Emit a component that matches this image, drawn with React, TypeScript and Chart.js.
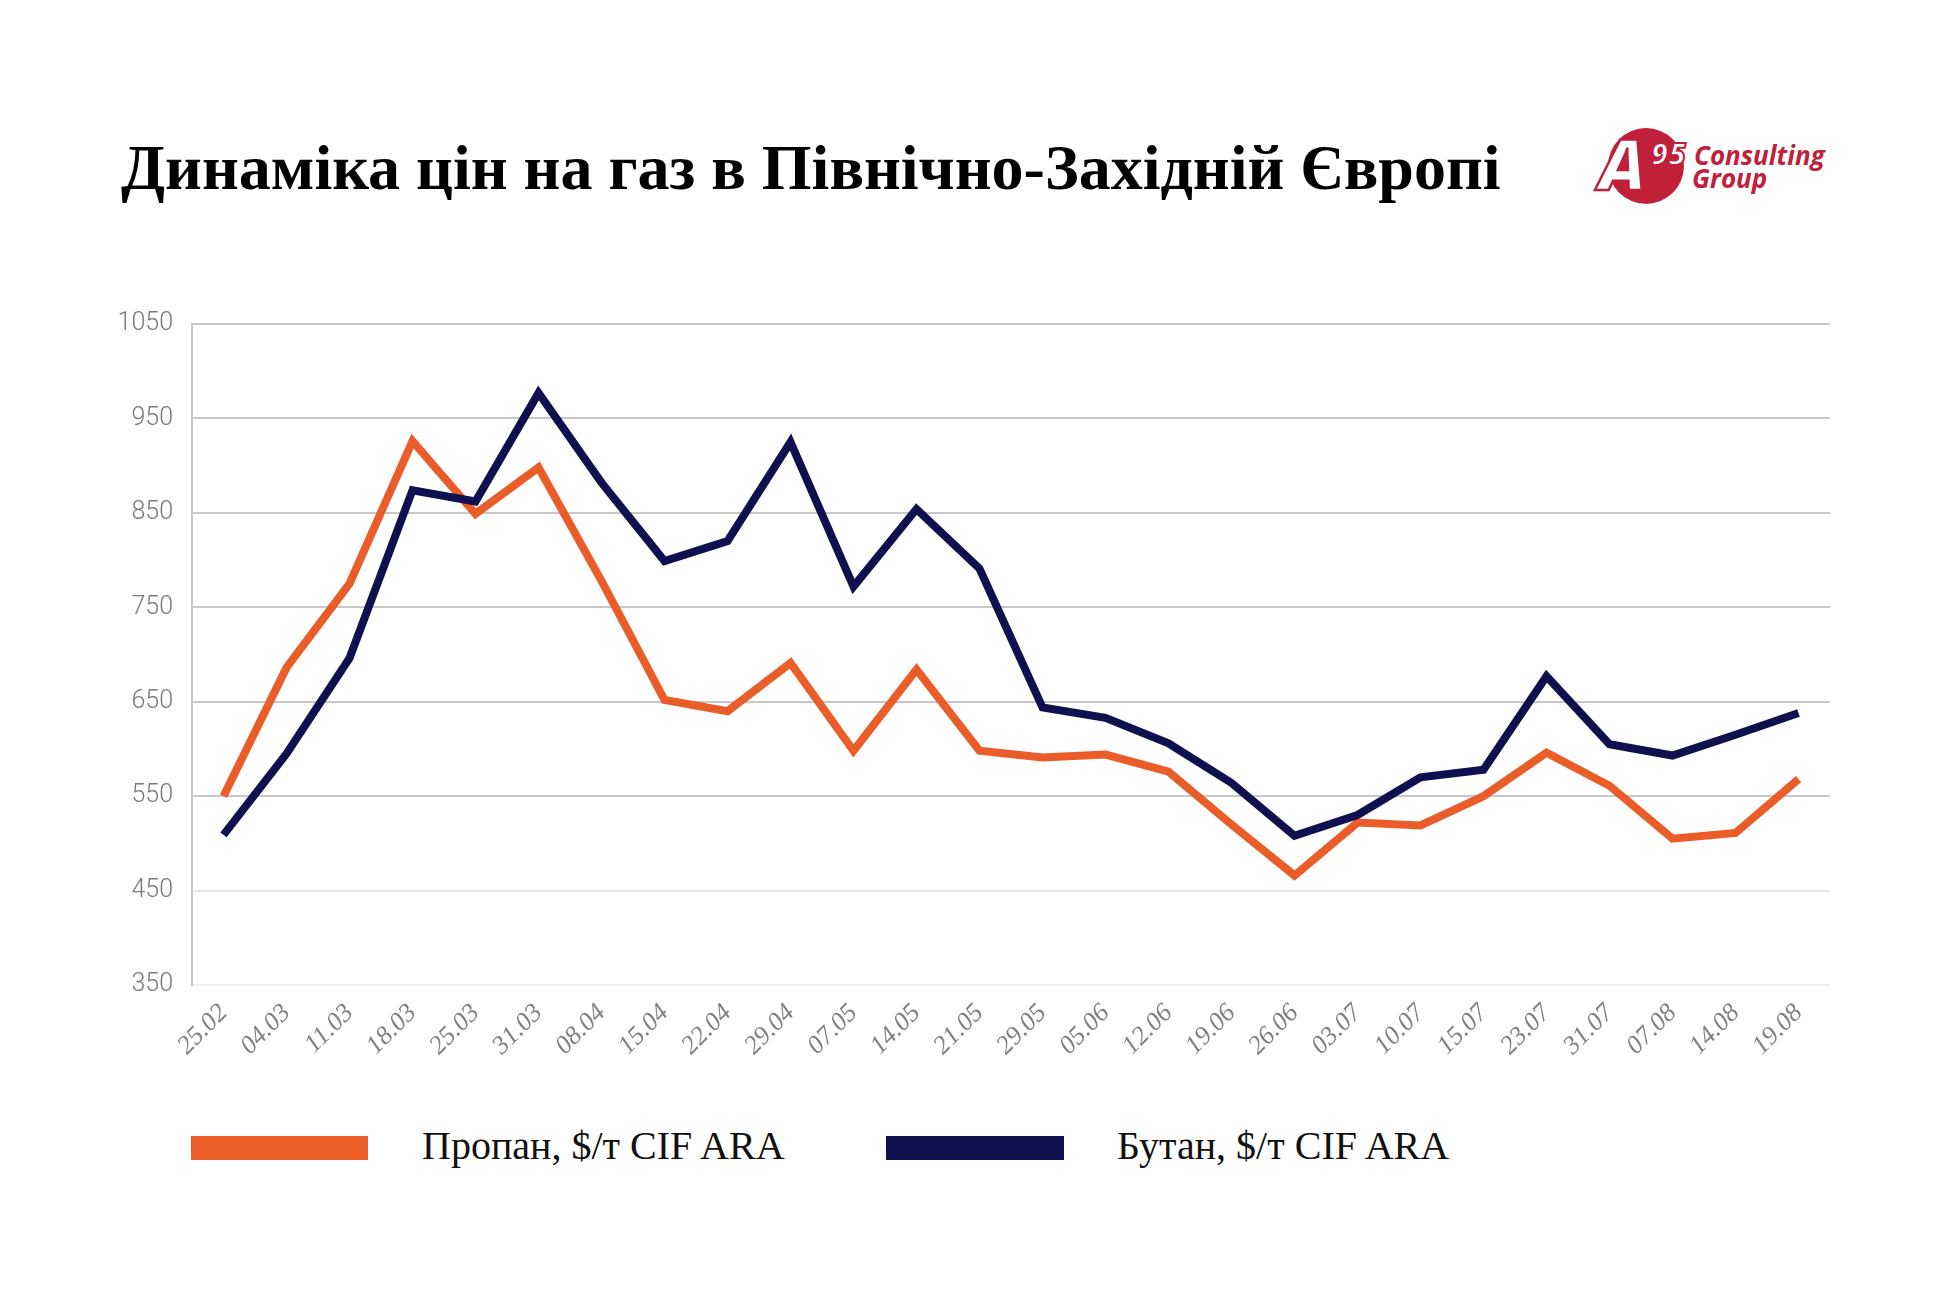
import { useEffect, useRef } from 'react';
import { Chart, registerables } from 'chart.js';

Chart.register(...registerables);

const LABELS = ['25.02', '04.03', '11.03', '18.03', '25.03', '31.03', '08.04', '15.04', '22.04', '29.04', '07.05', '14.05', '21.05', '29.05', '05.06', '12.06', '19.06', '26.06', '03.07', '10.07', '15.07', '23.07', '31.07', '07.08', '14.08', '19.08'];
const PROPANE = [550, 686, 775, 926, 849, 898, 778, 652, 640, 691, 598, 684, 598, 591, 594, 576, 520, 466, 522, 519, 550, 596, 561, 505, 511, 568];
const BUTANE = [509, 595, 696, 874, 862, 977, 882, 799, 820, 925, 772, 854, 791, 644, 633, 606, 564, 508, 530, 570, 578, 677, 605, 593, 615, 638];
const SERIES_NAMES = ['Пропан, $/т CIF ARA', 'Бутан, $/т CIF ARA'];
const Y_MIN = 350;
const Y_MAX = 1050;
const Y_STEP = 100;

const ORANGE = '#ea5c28';
const NAVY = '#10104f';
const RED = '#c1203b';

function gridColor(ctx: any) {
  const v = ctx.tick && ctx.tick.value;
  if (v === 350) return '#eeeeee';
  if (v === 450) return '#e2e5ee';
  return '#c8c8c8';
}

function PriceChart() {
  const ref = useRef<HTMLCanvasElement>(null);
  const ci = useRef<Chart | null>(null);

  useEffect(() => {
    if (!ref.current) return;
    ci.current?.destroy();
    ci.current = new Chart(ref.current, {
      type: 'line',
      data: {
        labels: LABELS,
        datasets: [
          { label: SERIES_NAMES[0], data: PROPANE, borderColor: ORANGE, backgroundColor: ORANGE, borderWidth: 8, pointRadius: 0, tension: 0, fill: false, borderJoinStyle: 'miter', borderCapStyle: 'butt', order: 1 },
          { label: SERIES_NAMES[1], data: BUTANE, borderColor: NAVY, backgroundColor: NAVY, borderWidth: 8, pointRadius: 0, tension: 0, fill: false, borderJoinStyle: 'miter', borderCapStyle: 'butt', order: 0 },
        ],
      },
      options: {
        animation: false, responsive: true, maintainAspectRatio: false,
        layout: { padding: { top: 26, right: 50, left: 0, bottom: 0 } },
        plugins: { legend: { display: false }, tooltip: { enabled: false } },
        scales: {
          x: {
            offset: true,
            grid: { display: false },
            border: { display: false },
            ticks: { autoSkip: false, minRotation: 45, maxRotation: 45, padding: 5, color: '#808080', font: { family: '"Liberation Serif", serif', style: 'italic', size: 26 } },
            afterFit: (s: any) => { s.height = 125; },
          },
          y: {
            min: Y_MIN, max: Y_MAX,
            ticks: { stepSize: Y_STEP, padding: 19, color: '#7a7a7a', font: { family: 'Roboto, sans-serif', weight: '300', size: 25 }, callback: (v: any) => String(v) },
            grid: { drawTicks: false, lineWidth: 2, color: gridColor },
            border: { display: true, color: '#c8c8c8', width: 2 },
            afterFit: (s: any) => { s.width = 92; },
          },
        },
      } as any,
    });
    return () => { ci.current?.destroy(); ci.current = null; };
  }, []);

  return (
    <div style={{ position: 'absolute', left: 100, top: 290, width: 1780, height: 820 }}>
      <canvas ref={ref} />
    </div>
  );
}

function Logo() {
  const f = '"Open Sans", sans-serif';
  return (
    <svg style={{ position: 'absolute', left: 1590, top: 120 }} width={260} height={100}>
      <circle cx={56} cy={46} r={38} fill={RED} />
      <text x={9} y={70} fontFamily={f} fontWeight={800} fontStyle="italic" fontSize={70} fill="#fff" stroke={RED} strokeWidth={2.5}>A</text>
      <text x={61} y={45} fontFamily={f} fontWeight={800} fontStyle="italic" fontSize={30} fill="#fff" stroke={RED} strokeWidth={2}>95</text>
      <text x={104} y={45} fontFamily={f} fontWeight={700} fontStyle="italic" fontSize={26} fill={RED}>Consulting</text>
      <text x={102} y={68} fontFamily={f} fontWeight={700} fontStyle="italic" fontSize={26} fill={RED}>Group</text>
    </svg>
  );
}

export default function App() {
  const serif = '"Liberation Serif", "Times New Roman", serif';
  const legendText: React.CSSProperties = { position: 'absolute', top: 1126, fontFamily: serif, fontSize: 40, lineHeight: '40px', color: '#111', whiteSpace: 'nowrap' };
  return (
    <div style={{ position: 'absolute', left: 0, top: 0, width: 1950, height: 1298, background: '#fff', overflow: 'hidden' }}>
      <div style={{ position: 'absolute', left: 121, top: 136, fontFamily: serif, fontWeight: 700, fontSize: 64, lineHeight: '64px', color: '#000', whiteSpace: 'nowrap' }}>
        Динаміка цін на газ в Північно-Західній Європі
      </div>
      <Logo />
      <PriceChart />
      <div style={{ position: 'absolute', left: 191, top: 1136, width: 177, height: 24, background: ORANGE }} />
      <div style={{ ...legendText, left: 422 }}>{SERIES_NAMES[0]}</div>
      <div style={{ position: 'absolute', left: 886, top: 1136, width: 178, height: 24, background: NAVY }} />
      <div style={{ ...legendText, left: 1117 }}>{SERIES_NAMES[1]}</div>
    </div>
  );
}
